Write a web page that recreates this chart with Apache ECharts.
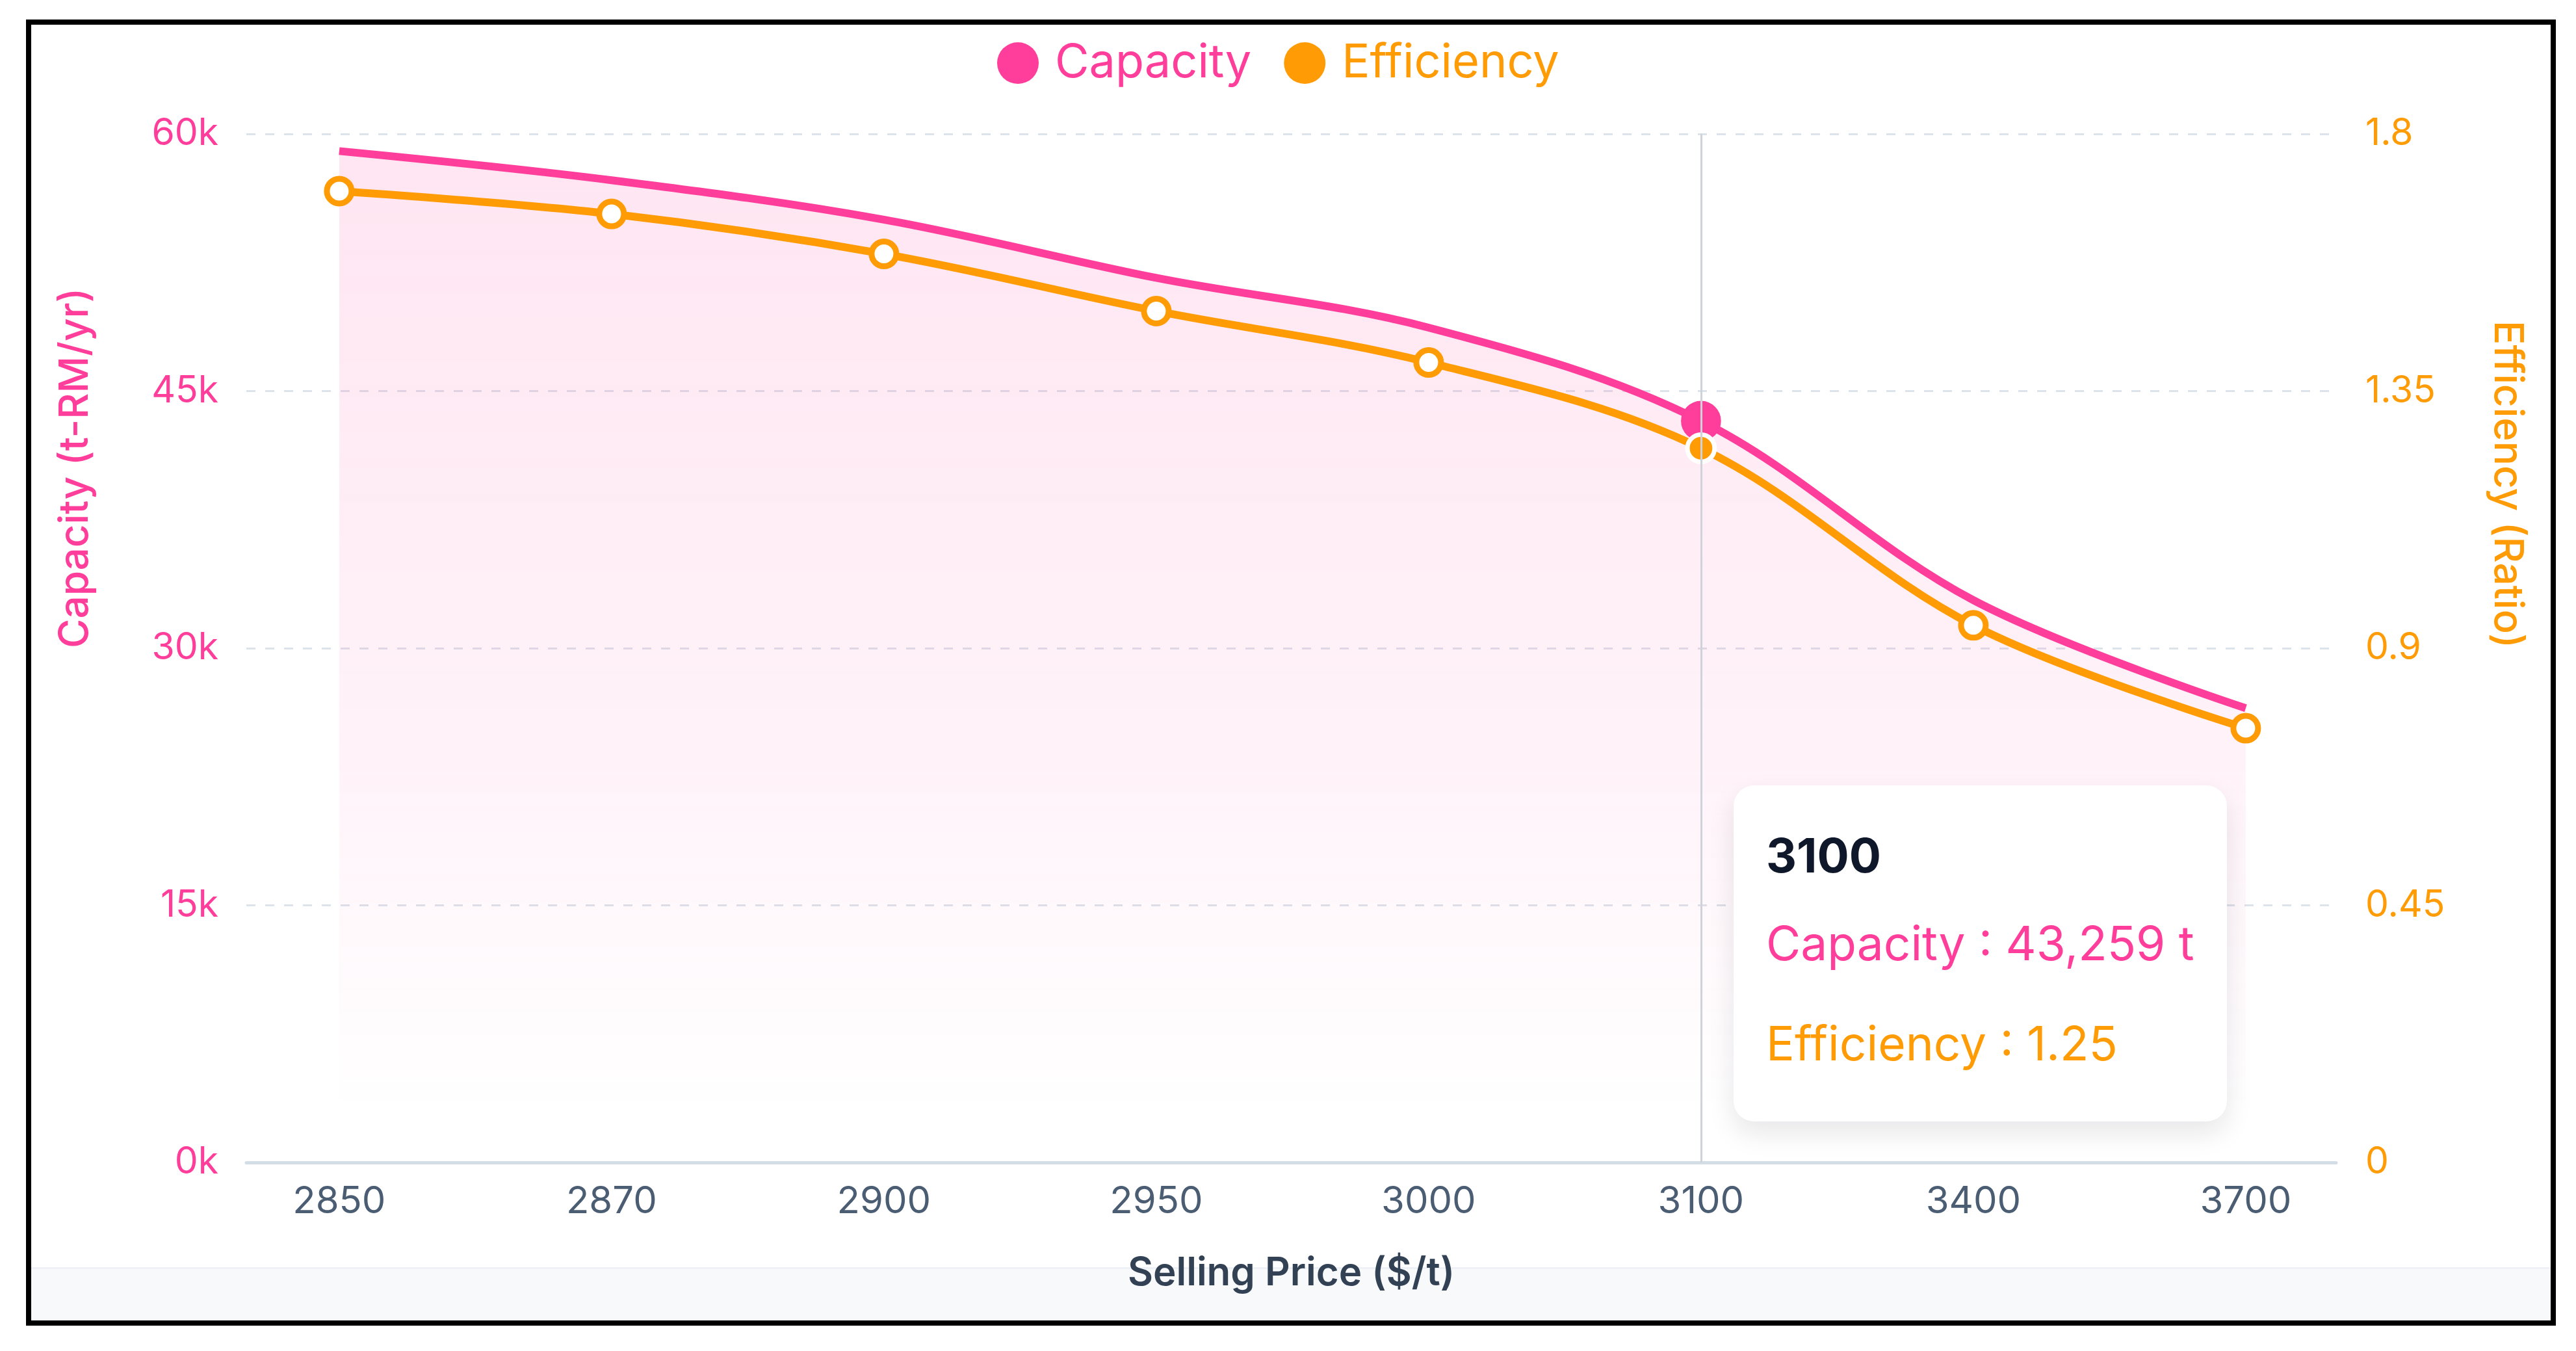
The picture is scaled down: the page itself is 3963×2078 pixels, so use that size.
<!DOCTYPE html>
<html>
<head>
<meta charset="utf-8">
<title>Capacity and Efficiency vs Selling Price</title>
<script src="https://cdn.jsdelivr.net/npm/echarts@6/dist/echarts.min.js"></script>
<style>
  html, body { margin: 0; padding: 0; background: #fff; }
  #frame { position: absolute; left: 40px; top: 30px; width: 3892px; height: 2009px; border: 8px solid #000; box-sizing: border-box; }
  #footer { position: absolute; left: 48px; top: 1949px; width: 3876px; height: 82px; background: #f7f9fb; border-top: 3px solid #eef2f6; box-sizing: border-box; }
  #chart { position: absolute; left: 0; top: 0; width: 3963px; height: 2078px; z-index: 2; }
</style>
</head>
<body>
<div id="frame"></div>
<div id="footer"></div>
<div id="chart"></div>
<script>
// selling price categories ($/t)
var categories = ['2850', '2870', '2900', '2950', '3000', '3100', '3400', '3700'];
// capacity, t-RM/yr
var capacity = [59000, 57300, 55000, 51600, 48700, 43259, 32800, 26500];
// efficiency ratio
var efficiency = [1.70, 1.66, 1.59, 1.49, 1.40, 1.25, 0.94, 0.76];
// the hovered point the tooltip is shown for
var activeIndex = 5;

var PINK = '#ff3d9a';
var ORANGE = '#ff9b05';
var FONT = 'Inter, "Noto Sans", sans-serif';

var myChart = echarts.init(document.getElementById('chart'), null, { renderer: 'canvas' });

var capData = capacity.map(function (v, i) {
    if (i === activeIndex) {
        return { value: [i, v], symbol: 'circle', symbolSize: 56, itemStyle: { color: PINK, borderWidth: 0 } };
    }
    return [i, v];
});

var effData = efficiency.map(function (v, i) {
    if (i === activeIndex) {
        return { value: [i, v], symbolSize: 38, itemStyle: { color: ORANGE, borderColor: '#fff', borderWidth: 7 } };
    }
    return [i, v];
});

var option = {
    animation: false,
    textStyle: { fontFamily: FONT },
    legend: {
        top: 56,
        left: 1529,
        icon: 'circle',
        itemWidth: 64,
        itemHeight: 64,
        itemGap: 50,
        textStyle: { fontSize: 72, fontFamily: FONT, padding: [0, 0, 0, 20] },
        data: [
            { name: 'Capacity', itemStyle: { color: PINK, borderWidth: 0 }, textStyle: { color: PINK } },
            { name: 'Efficiency', itemStyle: { color: ORANGE, borderWidth: 0 }, textStyle: { color: ORANGE } }
        ]
    },
    grid: { left: 379, right: 369, top: 206, bottom: 290 },
    tooltip: {
        trigger: 'axis',
        triggerOn: 'none',
        alwaysShowContent: true,
        transitionDuration: 0,
        backgroundColor: '#fff',
        borderWidth: 0,
        borderRadius: 32,
        padding: [50, 50, 43, 50],
        extraCssText: 'box-shadow: 0 18px 40px rgba(15,23,42,0.10);',
        axisPointer: {
            type: 'line',
            snap: true,
            lineStyle: { color: '#cfd3d9', width: 3, type: 'solid' },
            label: { show: false }
        },
        position: function (point) {
            return [point[0] + 50, 1208];
        },
        formatter: function (params) {
            var idx = params[0].value[0];
            var html = '<div style="font-family:Inter,sans-serif;font-size:73px;line-height:116px;font-weight:700;color:#0f172a;">' + categories[idx] + '</div>';
            params.forEach(function (p) {
                var txt = p.seriesName === 'Capacity'
                    ? p.value[1].toLocaleString('en-US') + ' t'
                    : p.value[1].toFixed(2);
                var col = p.seriesName === 'Capacity' ? PINK : ORANGE;
                html += '<div style="font-family:Inter,sans-serif;font-size:73px;line-height:154px;color:' + col + ';">' + p.seriesName + ' : ' + txt + '</div>';
            });
            return html;
        }
    },
    xAxis: {
        type: 'value',
        min: -0.341,
        max: 7.332,
        axisLine: { show: true, onZero: false, lineStyle: { color: '#d3dde6', width: 5 } },
        axisTick: { show: false },
        splitLine: { show: false },
        axisLabel: {
            customValues: categories.map(function (c, i) { return i; }),
            formatter: function (v) { return categories[v]; },
            color: '#4b5d73',
            fontSize: 58,
            fontFamily: FONT,
            margin: 32
        },
        name: 'Selling Price ($/t)',
        nameLocation: 'middle',
        nameGap: 141,
        nameTextStyle: { color: '#334155', fontSize: 60, fontWeight: 600, fontFamily: FONT }
    },
    yAxis: [
        {
            type: 'value',
            min: 0,
            max: 60000,
            interval: 15000,
            axisLine: { show: false },
            axisTick: { show: false },
            axisLabel: {
                formatter: function (v) { return (v / 1000) + 'k'; },
                color: PINK,
                fontSize: 57,
                fontFamily: FONT,
                margin: 43
            },
            splitLine: { lineStyle: { color: '#dce3eb', width: 3, type: [14, 15] } },
            name: 'Capacity (t-RM/yr)',
            nameLocation: 'middle',
            nameGap: 232,
            nameTextStyle: { color: PINK, fontSize: 62, fontWeight: 500, fontFamily: FONT, align: 'left' }
        },
        {
            type: 'value',
            min: 0,
            max: 1.8,
            interval: 0.45,
            position: 'right',
            axisLine: { show: false },
            axisTick: { show: false },
            axisLabel: { color: ORANGE, fontSize: 57, fontFamily: FONT, margin: 45 },
            splitLine: { show: false },
            name: 'Efficiency (Ratio)',
            nameLocation: 'middle',
            nameRotate: -90,
            nameGap: 232,
            nameTextStyle: { color: ORANGE, fontSize: 62, fontWeight: 500, fontFamily: FONT, align: 'right' }
        }
    ],
    series: [
        {
            name: 'Capacity',
            type: 'line',
            yAxisIndex: 0,
            smooth: 0.35,
            symbol: 'none',
            showSymbol: true,
            itemStyle: { color: PINK },
            lineStyle: { color: PINK, width: 12 },
            areaStyle: {
                color: new echarts.graphic.LinearGradient(0, 0, 0, 1, [
                    { offset: 0, color: 'rgba(255,61,154,0.19)' },
                    { offset: 0.6, color: 'rgba(255,61,154,0.09)' },
                    { offset: 0.95, color: 'rgba(255,61,154,0)' }
                ])
            },
            emphasis: { disabled: true },
            data: capData
        },
        {
            name: 'Efficiency',
            type: 'line',
            yAxisIndex: 1,
            smooth: 0.35,
            symbol: 'circle',
            symbolSize: 38,
            showSymbol: true,
            itemStyle: { color: '#fff', borderColor: ORANGE, borderWidth: 9 },
            lineStyle: { color: ORANGE, width: 12 },
            emphasis: { disabled: true },
            data: effData
        }
    ]
};

myChart.setOption(option);
myChart.dispatchAction({ type: 'showTip', seriesIndex: 0, dataIndex: activeIndex });
</script>
</body>
</html>
